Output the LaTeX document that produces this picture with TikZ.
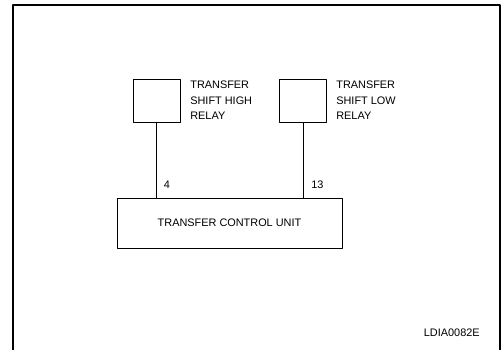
\documentclass[tikz,border=0pt]{standalone}
\usepackage{fontspec}
\setmainfont{Liberation Sans}
\usetikzlibrary{positioning}
\tikzset{
	relay/.style={draw, minimum width=47pt, minimum height=43pt, inner sep=0pt},
	unit/.style={draw, minimum width=225pt, minimum height=50pt, inner sep=0pt},
	txt/.style={inner sep=0pt, font=\fontsize{10.9}{15.5}\selectfont},
	lbl/.style={txt, align=left, anchor=north west},
}
\begin{document}
\begin{tikzpicture}[x=1pt, y=-1pt, line width=0.7pt, line join=round]
	\useasboundingbox (0,0) rectangle (503,349);
	\clip (0,0) rectangle (503,349);
	% frame
	\draw[line width=2.6pt] (13,360) -- (13,5) -- (500,5) -- (500,360);
	% relays and unit
	\node[relay] (hirelay) at (156.5,100.5) {};
	\node[relay] (lorelay) at (303,100.5) {};
	\node[unit] (tcu) at (229.5,223) {};
	\node[txt] (tcutxt) at (tcu.center) {TRANSFER CONTROL UNIT};
	\node[lbl] (hitxt) at (190,81) {TRANSFER\\SHIFT HIGH\\RELAY};
	\node[lbl] (lotxt) at (336,81) {TRANSFER\\SHIFT LOW\\RELAY};
	% wires
	\draw (hirelay.south) -- (hirelay.south |- tcu.north) coordinate (p4);
	\draw (lorelay.south) -- (lorelay.south |- tcu.north) coordinate (p13);
	\node[txt, anchor=south west] (n4) at ([shift={(7,-9)}]p4) {4};
	\node[txt, anchor=south west] (n13) at ([shift={(8,-9)}]p13) {13};
	\node[txt, anchor=east] (code) at (480,333) {LDIA0082E};
\end{tikzpicture}
\end{document}
